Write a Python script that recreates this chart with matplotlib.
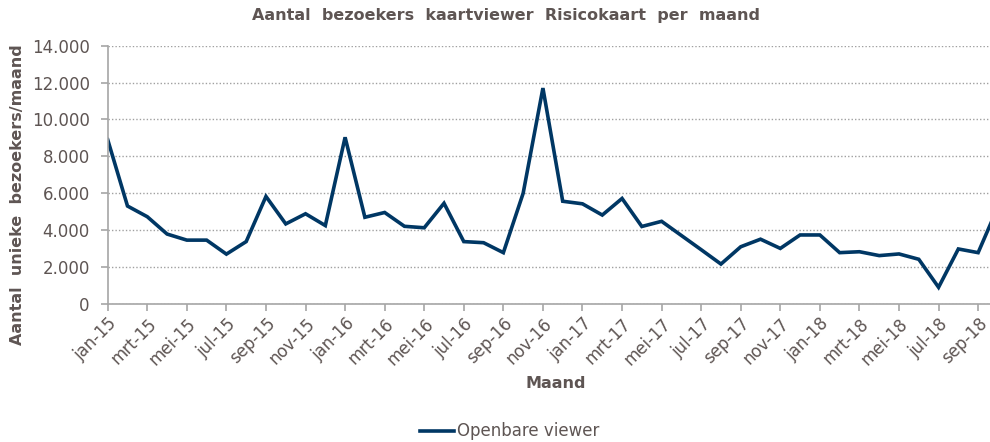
import matplotlib.pyplot as plt
from matplotlib.ticker import FuncFormatter

# maandelijkse bezoekers, jan-15 t/m okt-18
maanden = ["jan", "feb", "mrt", "apr", "mei", "jun", "jul", "aug", "sep", "okt", "nov", "dec"]
jaren = ["15", "16", "17", "18"]
labels = [f"{m}-{j}" for j in jaren for m in maanden][:46]

bezoekers = [
    8900, 5300, 4720, 3780, 3450, 3450, 2690, 3370, 5820, 4330, 4880, 4240,
    9030, 4690, 4950, 4200, 4120, 5450, 3370, 3310, 2770, 5990, 11700, 5560,
    5420, 4810, 5710, 4190, 4470, 3700, 2930, 2150, 3090, 3500, 3000, 3730,
    3730, 2770, 2820, 2610, 2700, 2410, 890, 2970, 2770, 5250,
]

text_kleur = "#5e5553"
lijn_kleur = "#003764"
x = list(range(len(bezoekers)))

fig = plt.figure(figsize=(9.9, 4.42), dpi=100)
ax = fig.add_axes([0.1088, 0.3129, 0.8912, 0.5837])

ax.plot(x, bezoekers, color=lijn_kleur, lw=2.6, solid_joinstyle="miter",
        label="Openbare viewer")

ax.set_xlim(0, 44.6)
ax.set_ylim(0, 14000)
ax.set_yticks(range(0, 14001, 2000))
ax.yaxis.set_major_formatter(FuncFormatter(lambda v, p: f"{v:,.0f}".replace(",", ".")))
ax.set_xticks(x[::2])
ax.set_xticklabels(labels[::2], rotation=45, ha="right", rotation_mode="anchor")

ax.grid(axis="y", linestyle=(0, (1, 1.5)), color="#a0a0a0", lw=1)
ax.set_axisbelow(True)
for s in ["top", "right"]:
    ax.spines[s].set_visible(False)
for s in ["left", "bottom"]:
    ax.spines[s].set_color("#a6a6a6")
    ax.spines[s].set_linewidth(1.2)
ax.tick_params(axis="both", colors="#a6a6a6", labelcolor=text_kleur,
               labelsize=12, length=5, width=1.2)
ax.tick_params(axis="y", pad=8)
ax.tick_params(axis="x", pad=3)

fig.text(0.511, 0.965, "Aantal  bezoekers  kaartviewer  Risicokaart  per  maand",
         ha="center", va="center", fontsize=11.5, fontweight="bold", color=text_kleur)
fig.text(0.018, 0.56, "Aantal  unieke  bezoekers/maand", rotation=90,
         ha="center", va="center", fontsize=11.5, fontweight="bold", color=text_kleur)
fig.text(0.561, 0.132, "Maand", ha="center", va="center", fontsize=11.5,
         fontweight="bold", color=text_kleur)

fig.legend(loc="center", bbox_to_anchor=(0.515, 0.024), frameon=False,
           fontsize=12, handlelength=2.0, handletextpad=0.2, labelcolor=text_kleur)

fig.savefig("out.png", dpi=100)
